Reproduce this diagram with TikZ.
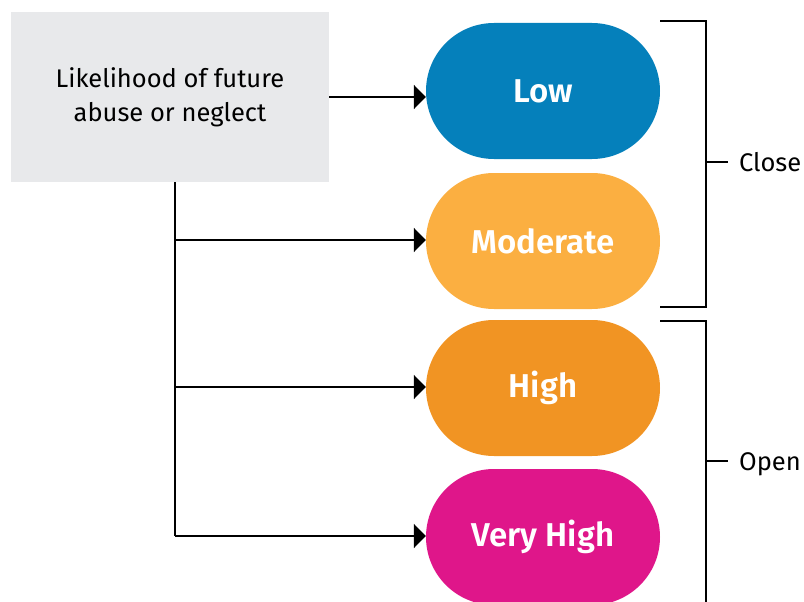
\documentclass[tikz,border=0pt]{standalone}
\usepackage{fontspec}
\setmainfont{Fira Sans}[BoldFont={Fira Sans SemiBold}]
\usetikzlibrary{arrows.meta}
\definecolor{boxgray}{HTML}{E8E9EB}
\definecolor{lowblue}{HTML}{0580BB}
\definecolor{modyellow}{HTML}{FBAF41}
\definecolor{highorange}{HTML}{F19423}
\definecolor{vhpink}{HTML}{DF168A}
\begin{document}
\begin{tikzpicture}[x=1pt,y=-1pt,
  pill/.style={draw=none, rounded corners=68pt, minimum width=234pt,
    minimum height=136pt, inner sep=0pt, text=white,
    font=\fontsize{33}{38}\selectfont\bfseries},
  link/.style={line width=2pt, -{Triangle[length=12pt,width=24pt]}},
  bracket/.style={line width=2pt},
  note/.style={font=\fontsize{25.5}{30}\selectfont, anchor=base west, inner sep=0pt}]
  \useasboundingbox (0,0) rectangle (804,602);

  % source box
  \node[fill=boxgray, minimum width=318pt, minimum height=170pt, inner sep=0pt,
        align=center, font=\fontsize{25.5}{34}\selectfont]
        (src) at (170,97) {Likelihood of future\\abuse or neglect};

  % outcome levels
  \node[pill, fill=lowblue]    (low)  at (543,91)  {Low};
  \node[pill, fill=modyellow]  (mod)  at (543,241) {Moderate};
  \node[pill, fill=highorange] (high) at (543,388) {High};
  \node[pill, fill=vhpink]     (vh)   at (543,537) {Very High};

  % connectors
  \draw[link] (src.east |- 0,97) -- (low.west |- 0,97);
  \coordinate (trunk) at (175,182);
  \draw[line width=2pt] (trunk) -- (175,536);
  \draw[link] (175,240) -- (mod.west |- 0,240);
  \draw[link] (175,387) -- (high.west |- 0,387);
  \draw[link] (175,536) -- (vh.west |- 0,536);

  % brackets
  \draw[bracket] (660,21) -- (706,21) -- (706,307) -- (660,307);
  \draw[bracket] (706,162) -- (728,162);
  \node[note] (close) at (739,171) {Close};
  \draw[bracket] (660,321) -- (706,321) -- (706,603);
  \draw[bracket] (706,461) -- (728,461);
  \node[note] (open) at (739,470) {Open};
\end{tikzpicture}
\end{document}
